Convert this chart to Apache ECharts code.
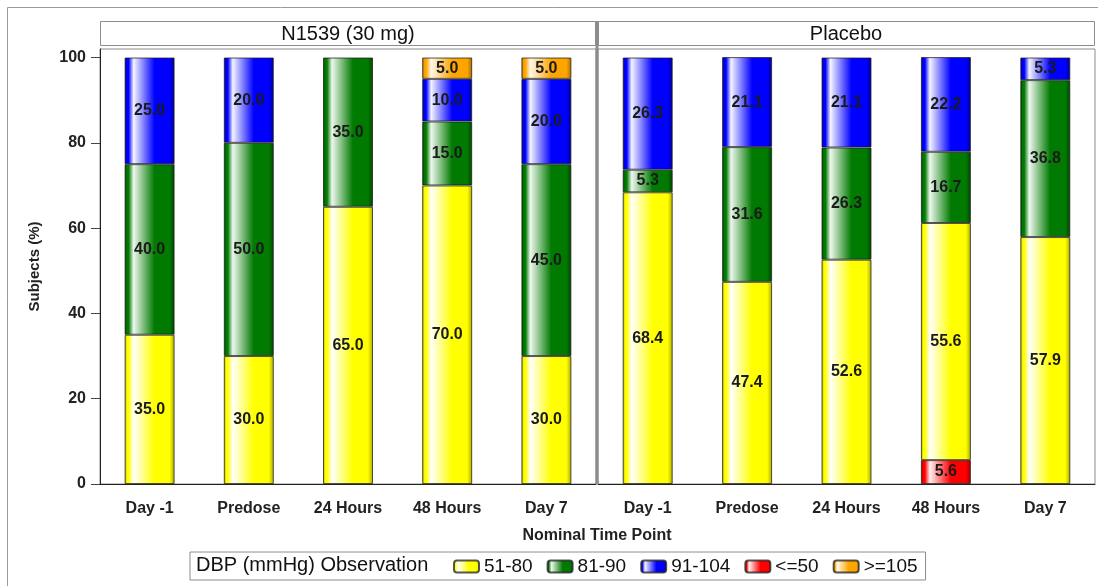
<!DOCTYPE html>
<html>
<head>
<meta charset="utf-8">
<script src="https://cdn.jsdelivr.net/npm/echarts@6/dist/echarts.min.js"></script>
<style>html,body{margin:0;padding:0;background:#fff;}#c{width:1098px;height:586px;}</style>
</head>
<body>
<div id="c"></div>
<script>
const categories = ['Day -1', 'Predose', '24 Hours', '48 Hours', 'Day 7'];
const panels = ['N1539 (30 mg)', 'Placebo'];
const legendTitle = 'DBP (mmHg) Observation';
const xAxisTitle = 'Nominal Time Point';
const yAxisTitle = 'Subjects (%)';
const yTicks = [0, 20, 40, 60, 80, 100];
const groups = ['<=50', '51-80', '81-90', '91-104', '>=105'];
const legendOrder = ['51-80', '81-90', '91-104', '<=50', '>=105'];

// N1539 (30 mg)
const n1539_le50   = [0, 0, 0, 0, 0];
const n1539_51_80  = [35.0, 30.0, 65.0, 70.0, 30.0];
const n1539_81_90  = [40.0, 50.0, 35.0, 15.0, 45.0];
const n1539_91_104 = [25.0, 20.0, 0, 10.0, 20.0];
const n1539_ge105  = [0, 0, 0, 5.0, 5.0];
// Placebo
const placebo_le50   = [0, 0, 0, 5.6, 0];
const placebo_51_80  = [68.4, 47.4, 52.6, 55.6, 57.9];
const placebo_81_90  = [5.3, 31.6, 26.3, 16.7, 36.8];
const placebo_91_104 = [26.3, 21.1, 21.1, 22.2, 5.3];
const placebo_ge105  = [0, 0, 0, 0, 0];

const panelData = [
  [n1539_le50, n1539_51_80, n1539_81_90, n1539_91_104, n1539_ge105],
  [placebo_le50, placebo_51_80, placebo_81_90, placebo_91_104, placebo_ge105]
];

const palette = {
  '<=50':   {base: '#ff0000', light: '#fff0f0', dark: '#a00000'},
  '51-80':  {base: '#ffff00', light: '#ffffff', dark: '#a8a800'},
  '81-90':  {base: '#007a00', light: '#eef7ee', dark: '#004400'},
  '91-104': {base: '#0000ff', light: '#f4f4ff', dark: '#000090'},
  '>=105':  {base: '#ffa500', light: '#fff8ec', dark: '#a86a00'}
};
function grad(p) {
  return new echarts.graphic.LinearGradient(0, 0, 1, 0, [
    {offset: 0, color: p.dark},
    {offset: 0.05, color: p.base},
    {offset: 0.08, color: p.base},
    {offset: 0.18, color: p.light},
    {offset: 0.6, color: p.base},
    {offset: 0.9, color: p.base},
    {offset: 1, color: p.dark}
  ]);
}

const labelFont = {fontFamily: 'Liberation Sans', fontWeight: 'bold', fontSize: 16, color: '#1a1a1a'};
const gridTop = 49, gridBottom = 102;
const grids = [
  {left: 100, top: gridTop, width: 496, bottom: gridBottom, show: true, borderColor: '#8c8c8c', borderWidth: 1},
  {left: 598, top: gridTop, width: 497, bottom: gridBottom, show: true, borderColor: '#8c8c8c', borderWidth: 1}
];
const xAxes = [0, 1].map(i => ({
  type: 'category', gridIndex: i, data: categories,
  axisLine: {lineStyle: {color: '#222', width: 1}},
  axisTick: {alignWithLabel: true, length: 8, lineStyle: {color: '#444'}},
  axisLabel: Object.assign({margin: 17, interval: 0}, labelFont, {color: '#222'})
}));
const yAxes = [0, 1].map(i => ({
  type: 'value', gridIndex: i, min: 0, max: 102,
  splitLine: {show: false},
  axisLine: {show: i === 0, lineStyle: {color: '#222'}},
  axisTick: {show: i === 0, length: 9, lineStyle: {color: '#444'}, customValues: yTicks},
  axisLabel: Object.assign({show: i === 0, margin: 14, customValues: yTicks}, labelFont, {color: '#222'}),
  name: i === 0 ? yAxisTitle : '',
  nameLocation: 'middle', nameGap: 58, nameRotate: 90,
  nameTextStyle: {fontFamily: 'Liberation Sans', fontWeight: 'bold', fontSize: 15, color: '#222'}
}));

const series = [];
panelData.forEach((arrs, pi) => {
  groups.forEach((g, gi) => {
    series.push({
      name: g, type: 'bar', stack: 'p' + pi, xAxisIndex: pi, yAxisIndex: pi,
      barWidth: 50,
      data: arrs[gi].map(v => v === 0 ? '-' : v),
      itemStyle: {color: grad(palette[g]), borderColor: 'rgba(30,30,30,0.75)', borderWidth: 1},
      label: Object.assign({show: true, position: 'inside',
        formatter: p => (typeof p.value === 'number' && p.value > 0) ? p.value.toFixed(1) : ''}, labelFont),
      emphasis: {disabled: true}
    });
  });
});

const chart = echarts.init(document.getElementById('c'), null, {renderer: 'canvas'});
chart.setOption({
  animation: false,
  backgroundColor: '#fff',
  grid: grids, xAxis: xAxes, yAxis: yAxes, series: series,
  legend: {
    data: legendOrder, left: 190, top: 552,
    padding: [5, 8, 4, 263], itemWidth: 25, itemHeight: 12, itemGap: 14,
    borderColor: '#8c8c8c', borderWidth: 1,
    textStyle: {fontFamily: 'Liberation Sans', fontSize: 19, color: '#111', lineHeight: 16},
    selectedMode: false
  },
  graphic: [
    {type: 'rect', shape: {x: 7.5, y: 7.5, width: 1200, height: 1000}, style: {fill: null, stroke: '#9a9a9a', lineWidth: 1}, silent: true},
    {type: 'rect', shape: {x: 100.5, y: 21.5, width: 495, height: 24}, style: {fill: '#fff', stroke: '#8c8c8c', lineWidth: 1}},
    {type: 'rect', shape: {x: 598.5, y: 21.5, width: 496, height: 24}, style: {fill: '#fff', stroke: '#8c8c8c', lineWidth: 1}},
    {type: 'text', x: 348, y: 34, style: {text: panels[0], fontFamily: 'Liberation Sans', fontSize: 20, fill: '#111', align: 'center', verticalAlign: 'middle'}},
    {type: 'text', x: 846, y: 34, style: {text: panels[1], fontFamily: 'Liberation Sans', fontSize: 20, fill: '#111', align: 'center', verticalAlign: 'middle'}},
    {type: 'rect', shape: {x: 595.5, y: 21, width: 3, height: 463}, style: {fill: '#8c8c8c'}, z: 100},
    {type: 'text', x: 597, y: 536, style: {text: xAxisTitle, fontFamily: 'Liberation Sans', fontWeight: 'bold', fontSize: 16, fill: '#222', align: 'center', verticalAlign: 'middle'}},
    {type: 'text', x: 196, y: 565, style: {text: legendTitle, fontFamily: 'Liberation Sans', fontSize: 20, fill: '#111', align: 'left', verticalAlign: 'middle'}, z: 100}
  ]
});
</script>
</body>
</html>
